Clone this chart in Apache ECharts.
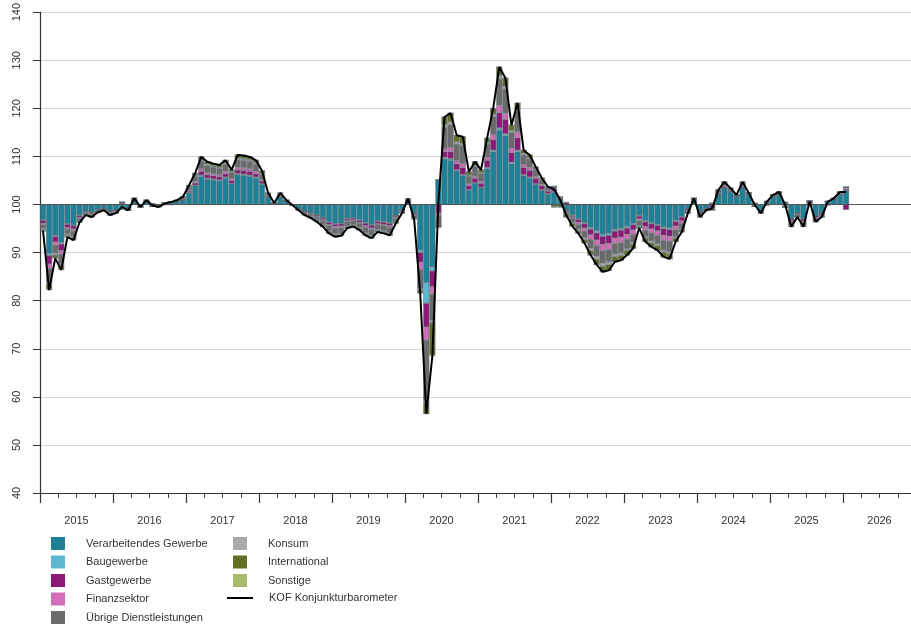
<!DOCTYPE html>
<html>
<head>
<meta charset="utf-8">
<script src="https://cdn.jsdelivr.net/npm/echarts@6/dist/echarts.min.js"></script>
<style>
html,body{margin:0;padding:0;background:#fff;overflow:hidden;width:911px;height:628px;}
#chart{width:916px;height:628px;}
</style>
</head>
<body>
<div id="chart"></div>
<script>
// Monthly data, Jan 2015 .. Jan 2026
const years = ['2015','2016','2017','2018','2019','2020','2021','2022','2023','2024','2025','2026'];

const barometer = [
 94.5, 82.2, 88.8, 86.4, 93.2, 92.6, 96.3, 97.8, 97.4, 98.4, 98.8, 97.8,
 98.2, 99.5, 98.8, 101.3, 99.5, 100.9, 99.8, 99.5, 100.2, 100.5, 100.9, 101.6,
 104.0, 106.5, 109.9, 108.9, 108.5, 108.2, 109.2, 107.2, 110.3, 110.2, 109.9, 109.2,
 107.0, 102.4, 100.3, 102.4, 100.9, 99.9, 98.8, 97.8, 97.2, 96.4, 95.4, 94.0,
 93.3, 93.5, 95.1, 95.4, 94.7, 93.6, 93.0, 94.3, 94.0, 93.6, 96.1, 98.2,
 101.2, 97.0, 81.6, 56.5, 68.5, 100.5, 118.2, 119.0, 114.4, 114.1, 106.8, 108.9,
 107.2, 113.8, 120.0, 128.6, 126.3, 116.5, 121.1, 111.3, 110.3, 107.8, 105.5, 103.7,
 103.2, 101.0, 97.8, 95.5, 94.0, 92.0, 89.5, 87.5, 86.0, 86.3, 88.1, 88.4,
 89.5, 90.9, 95.1, 92.3, 91.2, 90.5, 89.1, 88.7, 92.3, 94.3, 98.2, 101.3,
 97.4, 98.8, 99.2, 103.0, 104.7, 103.4, 102.0, 104.7, 102.4, 99.9, 98.2, 100.6,
 102.0, 102.6, 99.9, 95.4, 97.4, 95.4, 100.6, 96.4, 97.4, 100.6, 101.3, 102.6,
 102.6
];

const verarbeitendes = [
 -3.2, -10.2, -6.5, -7.9, -4.0, -4.3, -2.2, -1.4, -1.6, -1.0, -0.8, -1.4,
 -1.2, -0.8, -1.0, 0.8, -0.4, 0.5, -0.3, -0.3, 0.3, 0.5, 0.6, 1.0,
 2.4, 3.9, 5.9, 5.3, 5.1, 4.9, 5.5, 4.3, 6.2, 6.1, 5.9, 5.5,
 4.2, 1.5, 0.3, 1.5, 0.6, -0.1, -0.8, -1.4, -1.7, -2.2, -2.8, -3.6,
 -4.0, -3.9, -2.9, -2.8, -3.2, -3.8, -4.2, -3.4, -3.6, -3.8, -2.3, -1.1,
 0.7, -1.8, -9.5, -16.3, -13.0, 5.2, 9.5, 9.2, 7.0, 6.0, 3.0, 4.5,
 3.5, 7.5, 11.0, 15.5, 14.3, 8.5, 11.0, 6.0, 5.5, 4.2, 3.0, 2.2,
 2.6, 1.0, -1.2, -2.2, -3.0, -3.8, -4.8, -5.5, -6.2, -6.0, -5.2, -5.0,
 -4.6, -4.0, -2.3, -3.4, -3.8, -4.1, -4.7, -4.9, -3.3, -2.5, -0.9, 0.9,
 -1.6, -0.8, 0.3, 2.2, 3.5, 2.6, 1.6, 3.5, 1.9, 0.3, -1.1, 0.6,
 1.6, 2.0, 0.5, -3.0, -1.8, -3.0, 0.3, -2.3, -1.7, 0.6, 1.0, 2.0,
 3.0
];
const baugewerbe = [
 -0.1, -0.4, -0.2, -0.3, -0.1, -0.1, -0.1, 0, 0, 0, 0, 0,
 0, 0, 0, 0, 0, 0, 0, 0, 0, 0, 0, 0,
 0.1, 0.1, 0.2, 0.2, 0.2, 0.2, 0.2, 0.1, 0.2, 0.2, 0.2, 0.2,
 0.1, 0, 0, 0, 0, 0, 0, 0, 0, 0, 0, -0.1,
 -0.1, -0.1, -0.1, 0, -0.1, -0.1, -0.1, -0.1, -0.1, -0.1, 0, 0,
 0, 0, -0.5, -4.2, -0.8, 0, 0.3, 0.3, 0.2, 0.2, 0.1, 0.1,
 0.1, 0.2, 0.3, 0.4, 0.4, 0.3, 0.3, 0.2, 0.2, 0.1, 0.1, 0.1,
 0.1, 0, 0, -0.1, -0.1, -0.2, -0.3, -0.4, -0.4, -0.4, -0.3, -0.3,
 -0.3, -0.2, -0.1, -0.2, -0.2, -0.2, -0.3, -0.3, -0.2, -0.1, 0, 0,
 0, 0, 0, 0, 0, 0, 0, 0, 0, 0, 0, 0,
 0, 0, 0, 0, 0, 0, 0, 0, 0, 0, 0, 0,
 0
];
const gastgewerbe = [
 -0.6, -1.8, -1.1, -1.4, -0.7, -0.7, -0.4, -0.2, -0.3, -0.2, -0.1, -0.2,
 -0.2, -0.1, -0.1, 0, -0.1, 0, 0, -0.1, 0, 0, 0, 0.1,
 0.3, 0.5, 0.8, 0.7, 0.7, 0.7, 0.7, 0.6, 0.8, 0.8, 0.8, 0.7,
 0.6, 0.2, 0, 0.2, 0.1, 0, -0.1, -0.2, -0.2, -0.3, -0.4, -0.5,
 -0.5, -0.5, -0.4, -0.4, -0.4, -0.5, -0.6, -0.5, -0.5, -0.5, -0.3, -0.2,
 0.1, -0.3, -2.0, -5.0, -3.3, -1.8, 1.2, 1.5, 1.3, 1.5, 0.8, 0.9,
 0.8, 1.5, 2.2, 3.2, 3.0, 2.0, 2.6, 1.5, 1.4, 1.1, 0.8, 0.5,
 0.5, 0.3, 0.4, -0.3, -0.6, -0.9, -1.2, -1.5, -1.7, -1.7, -1.5, -1.5,
 -1.3, -1.1, -0.6, -1.0, -1.1, -1.2, -1.4, -1.4, -1.0, -0.8, -0.3, 0.1,
 -0.3, -0.2, -0.8, 0.2, 0.3, 0.2, 0.1, 0.3, 0.1, -0.3, -0.3, 0,
 0.1, 0.2, -0.2, -0.4, -0.2, -0.5, 0.4, -0.4, -0.3, 0, 0.1, 0.2,
 -1.1
];
const finanzsektor = [
 -0.3, -0.9, -0.6, -0.7, -0.3, -0.4, -0.2, -0.1, -0.1, -0.1, 0, -0.1,
 -0.1, 0, 0, 0, 0, 0, 0, 0, 0, 0, 0, 0.1,
 0.2, 0.3, 0.5, 0.4, 0.4, 0.4, 0.5, 0.4, 0.5, 0.5, 0.5, 0.5,
 0.3, 0.1, 0, 0.1, 0, 0, 0, -0.1, -0.1, -0.1, -0.2, -0.2,
 -0.3, -0.3, -0.2, -0.2, -0.2, -0.3, -0.3, -0.2, -0.2, -0.3, -0.2, -0.1,
 0, -0.1, -1.5, -2.7, -1.5, -0.4, 0.6, 0.8, 0.6, 0.8, 0.4, 0.4,
 0.4, 0.6, 1.0, 1.5, 1.3, 0.9, 1.2, 0.6, 0.6, 0.4, 0.3, 0.2,
 0.2, 0.1, 0.1, -0.2, -0.4, -0.6, -0.9, -1.1, -1.3, -1.3, -1.1, -1.1,
 -1.0, -0.9, -0.4, -0.7, -0.8, -0.9, -1.0, -1.0, -0.7, -0.5, -0.1, 0.1,
 -0.2, 0, -0.2, 0.1, 0.2, 0.1, 0.1, 0.2, 0.1, -0.1, -0.1, 0,
 0.1, 0.1, -0.1, -0.3, -0.1, -0.3, 0, -0.2, -0.1, 0, 0, 0.1,
 0.4
];
const uebrige = [
 -0.8, -2.7, -1.7, -2.0, -1.0, -1.1, -0.5, -0.3, -0.4, -0.2, -0.2, -0.3,
 -0.2, 0.5, 0, 0.4, 0, 0.3, 0.2, 0, 0, 0.1, 0.2, 0.3,
 0.6, 1.1, 1.6, 1.5, 1.4, 1.3, 1.5, 1.2, 1.6, 1.6, 1.6, 1.5,
 1.1, 0.4, 0, 0.4, 0.2, 0, -0.2, -0.3, -0.5, -0.6, -0.8, -1.1,
 -1.2, -1.2, -0.9, -0.8, -0.9, -1.2, -1.2, -1.0, -1.1, -1.1, -0.7, -0.3,
 0.2, -0.5, -4.0, -12.5, -5.5, -2.0, 4.5, 4.8, 3.5, 3.8, 1.6, 2.0,
 1.6, 2.8, 3.8, 5.5, 5.0, 3.3, 4.2, 2.0, 1.8, 1.4, 0.9, 0.5,
 0.4, 0.2, -0.6, -0.9, -1.1, -1.4, -1.9, -2.3, -2.6, -2.5, -2.2, -2.2,
 -2.0, -1.7, -0.9, -1.4, -1.7, -1.8, -2.1, -2.2, -1.5, -1.1, -0.3, 0.2,
 -0.3, -0.1, -0.1, 0.4, 0.5, 0.4, 0.2, 0.5, 0.3, 0, -0.2, 0.1,
 0.2, 0.3, -0.2, -0.6, -0.4, -0.5, 0.1, -0.5, -0.4, 0.1, 0.2, 0.3,
 0.2
];
const konsum = [
 -0.2, -0.7, -0.4, -0.5, -0.3, -0.3, -0.1, -0.1, -0.1, 0, 0, -0.1,
 0, 0, 0, 0.1, 0, 0.1, 0, 0, 0, 0, 0, 0,
 0.1, 0.2, 0.3, 0.3, 0.2, 0.2, 0.3, 0.2, 0.3, 0.3, 0.3, 0.3,
 0.2, 0.1, 0, 0.1, 0, 0, 0, -0.1, -0.1, -0.1, -0.2, -0.2,
 -0.3, -0.2, -0.2, -0.2, -0.2, -0.2, -0.3, -0.2, -0.2, -0.2, -0.1, 0,
 0.1, -0.1, -0.3, -0.8, -0.5, 0, 0.5, 0.6, 0.4, 0.4, 0.2, 0.2,
 0.2, 0.3, 0.5, 0.7, 0.6, 0.4, 0.5, 0.3, 0.2, 0.2, 0.1, 0.1,
 0, 0, -0.2, -0.2, -0.3, -0.4, -0.5, -0.6, -0.6, -0.6, -0.5, -0.5,
 -0.4, -0.4, -0.2, -0.3, -0.4, -0.4, -0.4, -0.5, -0.3, -0.2, -0.1, 0,
 -0.1, 0, 0, 0.1, 0.1, 0.1, 0, 0.1, 0, 0, 0, 0,
 0, 0, 0, -0.1, 0, -0.1, 0, -0.1, 0, 0, 0, 0,
 0
];
const international = [
 -0.3, -0.9, -0.6, -0.7, -0.3, -0.4, -0.2, -0.1, -0.1, -0.1, -0.1, -0.1,
 -0.1, 0, -0.1, 0, 0, 0, -0.1, -0.1, 0, 0, 0.1, 0.1,
 0.3, 0.4, 0.6, 0.5, 0.5, 0.5, 0.5, 0.4, 0.7, 0.7, 0.6, 0.5,
 0.5, 0.1, 0, 0.1, 0, 0, -0.1, -0.1, -0.2, -0.2, -0.2, -0.3,
 -0.3, -0.3, -0.2, -0.2, -0.3, -0.3, -0.3, -0.3, -0.3, -0.4, -0.3, -0.1,
 0.1, -0.2, -0.6, -2.0, -6.6, -0.5, 1.6, 1.8, 1.4, 1.4, 0.7, 0.8,
 0.6, 0.9, 1.2, 1.8, 1.7, 1.1, 1.3, 0.7, 0.6, 0.4, 0.3, 0.1,
 -0.5, -0.5, -0.6, -0.6, -0.5, -0.7, -0.9, -1.1, -1.2, -1.2, -1.1, -1.0,
 -0.9, -0.8, -0.4, -0.7, -0.8, -0.9, -1.0, -1.0, -0.7, -0.5, -0.1, 0,
 -0.1, -0.1, 0, 0, 0.1, 0, 0, 0.1, 0, 0, -0.1, -0.1,
 0, 0, -0.1, -0.2, -0.1, -0.2, -0.2, -0.1, -0.1, -0.1, 0, 0,
 0
];
const sonstige = [
 0, -0.2, -0.1, -0.1, -0.1, -0.1, 0, 0, 0, 0, 0, 0,
 0, -0.1, 0, 0, 0, 0, 0, 0, -0.1, -0.1, 0, 0,
 0, 0, 0, 0, 0, 0, 0, 0, 0, 0, 0, 0,
 0, 0, 0, 0, 0, 0, 0, 0, 0, -0.1, 0, 0,
 0, 0, 0, 0, 0, 0, 0, 0, 0, 0, 0, 0,
 0, 0, 0, 0, -0.3, 0, 0, 0, 0, 0, 0, 0,
 0, 0, 0, 0, 0, 0, 0, 0, 0, 0, 0, 0,
 -0.1, -0.1, -0.1, 0, 0, 0, 0, 0, 0, 0, 0, 0,
 0, 0, 0, 0, 0, 0, 0, 0, 0, 0, 0, 0,
 0, 0, 0, 0, 0, 0, 0, 0, 0, 0, 0, 0,
 0, 0, 0, 0, 0, 0, 0, 0, 0, 0, 0, 0,
 0
];

const components = [
  {name: 'Verarbeitendes Gewerbe', data: verarbeitendes, color: '#1f8198'},
  {name: 'Baugewerbe', data: baugewerbe, color: '#5cb8d0'},
  {name: 'Gastgewerbe', data: gastgewerbe, color: '#8e1878'},
  {name: 'Finanzsektor', data: finanzsektor, color: '#d36fb9'},
  {name: 'Übrige Dienstleistungen', data: uebrige, color: '#6b6b6b'},
  {name: 'Konsum', data: konsum, color: '#a9a9a9'},
  {name: 'International', data: international, color: '#627024'},
  {name: 'Sonstige', data: sonstige, color: '#a9b96c'}
];
const lineName = 'KOF Konjunkturbarometer';

// month categories Jan 2015 .. Dec 2026 (axis spans 12 years)
const monthCats = [];
years.forEach(y => { for (let m = 1; m <= 12; m++) monthCats.push(y + '-' + (m < 10 ? '0' + m : m)); });
const nMonths = monthCats.length; // 144
const yearTicks = [], yearLabelPos = [], quarterTicks = [];
for (let k = 0; k < years.length; k++) { yearTicks.push(k * 12); yearLabelPos.push(k * 12 + 6); }
for (let m = 3; m < nMonths; m += 3) { if (m % 12 !== 0) quarterTicks.push(m); }

const series = components.map(c => ({
  name: c.name,
  type: 'bar',
  stack: 'kof',
  xAxisIndex: 0,
  barWidth: 6,
  itemStyle: {color: c.color, borderColor: '#5d6b70', borderWidth: 0.5},
  data: c.data
}));
series[0].markLine = {
  silent: true, symbol: 'none', animation: false,
  label: {show: false},
  lineStyle: {color: '#555', width: 1, type: 'solid'},
  data: [{yAxis: 0}]
};
series.push({
  name: lineName,
  type: 'line',
  xAxisIndex: 0,
  symbol: 'none',
  z: 5,
  lineStyle: {color: '#000', width: 2},
  itemStyle: {color: '#000'},
  data: barometer.map(v => +(v - 100).toFixed(2))
});

const chart = echarts.init(document.getElementById('chart'), null, {renderer: 'canvas'});
const txt = {fontFamily: 'Liberation Sans, Arial, sans-serif', fontSize: 11, color: '#333'};
chart.setOption({
  animation: false,
  textStyle: {fontFamily: 'Liberation Sans, Arial, sans-serif'},
  grid: {left: 40, right: 0, top: 12, bottom: 135, containLabel: false},
  xAxis: [{
    type: 'category', data: monthCats, boundaryGap: true, position: 'bottom',
    axisLine: {show: false}, axisTick: {show: false}, axisLabel: {show: false}, splitLine: {show: false}
  }, {
    type: 'value', min: 0, max: nMonths, position: 'bottom',
    axisLine: {show: true, onZero: false, lineStyle: {color: '#333', width: 1.2}},
    axisTick: {show: true, customValues: yearTicks, length: 10, lineStyle: {color: '#333', width: 1.2}},
    axisLabel: {show: true, customValues: yearLabelPos, margin: 22, fontSize: 11, color: '#333',
      formatter: v => years[Math.round((v - 6) / 12)] || ''},
    splitLine: {show: false}
  }, {
    type: 'value', min: 0, max: nMonths, position: 'bottom',
    axisLine: {show: false, onZero: false},
    axisTick: {show: true, customValues: quarterTicks, length: 5, lineStyle: {color: '#444', width: 1}},
    axisLabel: {show: false},
    splitLine: {show: false}
  }],
  yAxis: {
    type: 'value', min: -60, max: 40, interval: 10,
    axisLine: {show: true, onZero: false, lineStyle: {color: '#333', width: 1.2}},
    axisTick: {show: true, length: 7, lineStyle: {color: '#333'}},
    axisLabel: {rotate: 90, margin: 18, fontSize: 11, color: '#333', formatter: v => String(v + 100)},
    splitLine: {show: true, lineStyle: {color: '#d6d6d6', width: 1}}
  },
  legend: [{
    orient: 'vertical', left: 51, top: 537, padding: 0, itemWidth: 14, itemHeight: 13, itemGap: 5.5,
    icon: 'rect', selectedMode: false, itemStyle: {borderWidth: 0},
    data: components.slice(0, 5).map(c => c.name),
    textStyle: Object.assign({}, txt, {padding: [0, 0, 0, 16]})
  }, {
    orient: 'vertical', left: 233, top: 537, padding: 0, itemWidth: 14, itemHeight: 13, itemGap: 5.5,
    icon: 'rect', selectedMode: false, itemStyle: {borderWidth: 0},
    data: components.slice(5).map(c => c.name),
    textStyle: Object.assign({}, txt, {padding: [0, 0, 0, 16]})
  }, {
    orient: 'vertical', left: 227, top: 592.5, padding: 0, itemWidth: 26, itemHeight: 13,
    selectedMode: false,
    data: [{name: lineName, icon: 'path://M0,6 L26,6 L26,8 L0,8 Z'}],
    itemStyle: {color: '#000', borderWidth: 0},
    textStyle: Object.assign({}, txt, {padding: [0, 0, 0, 11]})
  }],
  series: series
});
</script>
</body>
</html>
